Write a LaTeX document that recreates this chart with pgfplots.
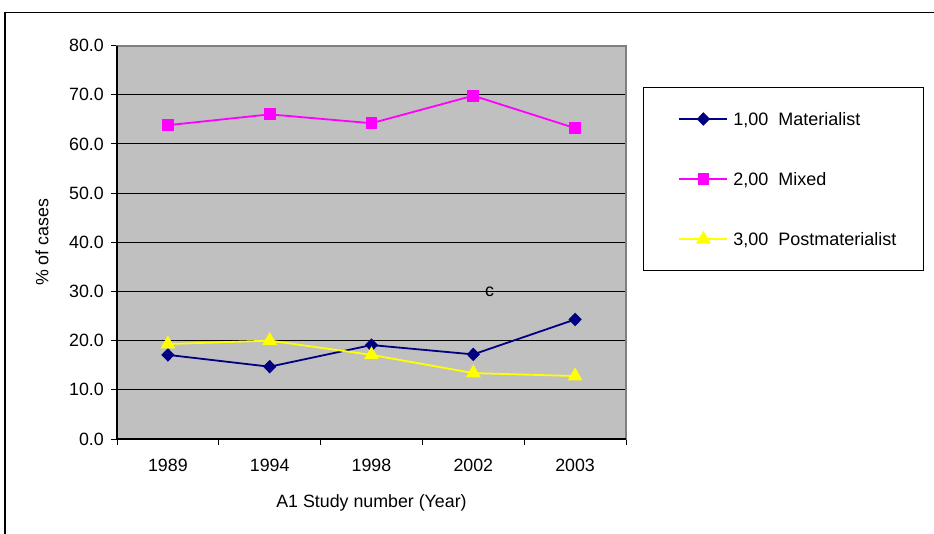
\documentclass[border=0pt]{standalone}
\usepackage{pgfplots}
\pgfplotsset{compat=1.18}
\usepackage{fontspec}
\setmainfont{Liberation Sans}
\definecolor{plotgray}{HTML}{C0C0C0}
\definecolor{bordergray}{HTML}{808080}
\definecolor{navyc}{HTML}{000080}
\definecolor{magc}{HTML}{FF00FF}
\definecolor{yelc}{HTML}{FFFF00}
\begin{document}
\begin{tikzpicture}[x=1pt,y=1pt]
\useasboundingbox (0,0) rectangle (934,533);
\fill[white] (0,0) rectangle (934,533);
\draw[line width=1.5pt] (5,-2) -- (5,520.5) -- (940,520.5);
\begin{axis}[
  at={(117pt,94pt)}, anchor=south west,
  scale only axis, width=509pt, height=393.5pt,
  xmin=-0.5, xmax=4.5, ymin=0, ymax=80,
  clip=false,
  axis line style={draw=none},
  axis background/.style={fill=plotgray},
  /pgf/number format/assume math mode=true,
  xtick pos=bottom, ytick pos=left,
  ytick={0,10,...,80},
  yticklabel={\pgfmathprintnumber[fixed,fixed zerofill,precision=1]{\tick}},
  yticklabel style={anchor=east, inner sep=0pt, xshift=-7pt, font=\fontsize{17.8}{20}\selectfont},
  xtick={-0.5,0.5,1.5,2.5,3.5,4.5},
  xticklabels={},
  extra x ticks={0,1,2,3,4},
  extra x tick labels={1989,1994,1998,2002,2003},
  extra x tick style={major tick length=0pt},
  xticklabel style={anchor=center, inner sep=0pt, yshift=-26pt, font=\fontsize{17.8}{20}\selectfont},
  tick align=outside,
  major tick length=6pt,
  tick style={black, line width=1pt},
  ymajorgrids, xmajorgrids=false,
  major grid style={black, line width=1pt},
  xlabel={A1 Study number (Year)},
  xlabel style={at={(axis description cs:0.5,-0.1626)}, anchor=center, font=\fontsize{17.8}{20}\selectfont},
  ylabel={\% of cases},
  ylabel style={at={(axis description cs:-0.1473,0.5)}, anchor=center, font=\fontsize{17.8}{20}\selectfont},
  legend style={at={(axis description cs:1.0334,0.8945)}, anchor=north west,
    draw=black, line width=1pt, fill=white,
    inner xsep=27pt, inner ysep=25pt, row sep=47pt, column sep=5pt,
    font=\fontsize{18}{21}\selectfont,
    nodes={inner sep=0pt, text height=13pt, text depth=0pt}},
  legend cell align=left,
  legend image code/.code={\path (0pt,0pt); \draw[mark repeat=2,mark phase=2,#1] plot coordinates {(8pt,0pt) (32pt,0pt) (56pt,0pt)};},
]
\addplot[color=navyc, line width=1.8pt, mark=diamond*, mark size=5.5pt, mark options={solid, fill=navyc, xscale=1.3}]
  coordinates {(0,17.1) (1,14.7) (2,19.1) (3,17.2) (4,24.3)};
\addlegendentry{1,00\ \ Materialist}
\addplot[color=magc, line width=1.8pt, mark=square*, mark size=5pt, mark options={solid, fill=magc}]
  coordinates {(0,63.8) (1,66.0) (2,64.2) (3,69.8) (4,63.2)};
\addlegendentry{2,00\ \ Mixed}
\addplot[color=yelc, line width=1.8pt, mark=triangle*, mark size=6.8pt, mark options={solid, fill=yelc}]
  coordinates {(0,19.3) (1,20.0) (2,17.1) (3,13.4) (4,12.8)};
\addlegendentry{3,00\ \ Postmaterialist}
\draw[bordergray, line width=2pt] (rel axis cs:0,0) rectangle (rel axis cs:1,1);
\draw[black, line width=1.2pt] (rel axis cs:0,1) -- (rel axis cs:0,0) -- (rel axis cs:1,0);
\node[font=\fontsize{17.8}{20}\selectfont] at (axis cs:3.16,30) {c};
\end{axis}
\end{tikzpicture}
\end{document}
